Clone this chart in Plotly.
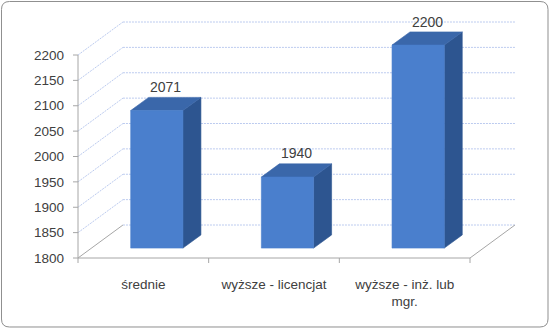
import plotly.graph_objects as go

# ---- data ----
categories = ["średnie", "wyższe - licencjat", "wyższe - inż. lub<br>mgr."]
values = [2071, 1940, 2200]
value_labels = ["2071", "1940", "2200"]
y_ticks = [1800, 1850, 1900, 1950, 2000, 2050, 2100, 2150, 2200]
y_tick_text = [str(v) for v in y_ticks]

# ---- 3D projection settings (data units) ----
Y0 = 1800            # floor value
N = len(categories)
DX, DY = 0.344, 65.0 # offset of the back wall relative to the front plane
D0, D1 = 0.3, 0.7    # bar depth range (fraction of full depth)
HW = 0.2             # half bar width

# pixel scale of the figure
W, H = 550, 329
PX_X = 130.67        # px per category unit
PX_Y = 0.5075        # px per value unit
ML, MR, MT, MB = 73, 20, 15, 65
FLOOR_PAD_X = 5      # px between plot-area left edge and front axis
FLOOR_PAD_Y = 6      # px between plot-area bottom and front floor

x_min = -FLOOR_PAD_X / PX_X
x_max = x_min + (W - ML - MR) / PX_X
y_min = Y0 - FLOOR_PAD_Y / PX_Y
y_max = y_min + (H - MT - MB) / PX_Y


def P(x, v, d):
    return x + d * DX, v + d * DY


def seg_trace(segs, color, width=1, dash="solid"):
    xs, ys = [], []
    for (a, b) in segs:
        xs += [a[0], b[0], None]
        ys += [a[1], b[1], None]
    return go.Scatter(x=xs, y=ys, mode="lines", hoverinfo="skip",
                      line=dict(color=color, width=width, dash=dash),
                      showlegend=False)


def poly_trace(pts, fill, edge):
    xs = [p[0] for p in pts] + [pts[0][0]]
    ys = [p[1] for p in pts] + [pts[0][1]]
    return go.Scatter(x=xs, y=ys, mode="lines", fill="toself", fillcolor=fill,
                      line=dict(color=edge, width=0.6), hoverinfo="skip",
                      showlegend=False)


fig = go.Figure()

grid_col = "#bccbef"
axis_col = "#a6a6a6"

# back wall gridlines
fig.add_trace(seg_trace([(P(0, v, 1), P(N, v, 1)) for v in y_ticks], grid_col, 1, "2px,1px"))
# side wall diagonals
fig.add_trace(seg_trace([(P(0, v, 0), P(0, v, 1)) for v in y_ticks[1:]], grid_col, 1, "2px,1px"))
# floor edges
fig.add_trace(seg_trace([(P(0, Y0, 0), P(0, Y0, 1)), (P(N, Y0, 0), P(N, Y0, 1))], axis_col, 1))
# front axis line + floor front edge
fig.add_trace(seg_trace([(P(0, Y0, 0), P(0, y_ticks[-1], 0)), (P(0, Y0, 0), P(N, Y0, 0))], axis_col, 1))
# y tick marks
fig.add_trace(seg_trace([((-FLOOR_PAD_X / PX_X, v), (0, v)) for v in y_ticks], axis_col, 1))
# x tick marks at category boundaries
fig.add_trace(seg_trace([((i, Y0), (i, Y0 - 5 / PX_Y)) for i in range(N + 1)], axis_col, 1))

front_col = "#4a7fcd"
side_col = "#2d5590"
top_col = "#3a67aa"

for i, v in enumerate(values):
    c = i + 0.5
    xl, xr = c - HW, c + HW
    side = [P(xr, Y0, D0), P(xr, Y0, D1), P(xr, v, D1), P(xr, v, D0)]
    top = [P(xl, v, D0), P(xr, v, D0), P(xr, v, D1), P(xl, v, D1)]
    front = [P(xl, Y0, D0), P(xr, Y0, D0), P(xr, v, D0), P(xl, v, D0)]
    fig.add_trace(poly_trace(side, side_col, side_col))
    fig.add_trace(poly_trace(top, top_col, top_col))
    fig.add_trace(poly_trace(front, front_col, front_col))
    lx, ly = P(c, v, 0.5)
    fig.add_annotation(x=lx, y=ly, text=value_labels[i], showarrow=False,
                       yshift=17, font=dict(size=14, color="#404040",
                                            family="Liberation Sans"))

# rounded border (in paper coords)
def to_paper(px, py):
    return (px - ML) / (W - ML - MR), (H - MB - py) / (H - MT - MB)

r = 8
x0p, y0p, x1p, y1p = 1.5, 1.5, 548, 327
pts = {
    "a": to_paper(x0p + r, y0p), "b": to_paper(x1p - r, y0p),
    "c": to_paper(x1p, y0p), "d": to_paper(x1p, y0p + r),
    "e": to_paper(x1p, y1p - r), "f": to_paper(x1p, y1p),
    "g": to_paper(x1p - r, y1p), "h": to_paper(x0p + r, y1p),
    "i": to_paper(x0p, y1p), "j": to_paper(x0p, y1p - r),
    "k": to_paper(x0p, y0p + r), "l": to_paper(x0p, y0p),
}
f = lambda k: f"{pts[k][0]:.5f},{pts[k][1]:.5f}"
path = (f"M {f('a')} L {f('b')} Q {f('c')} {f('d')} L {f('e')} Q {f('f')} {f('g')} "
        f"L {f('h')} Q {f('i')} {f('j')} L {f('k')} Q {f('l')} {f('a')} Z")
fig.add_shape(type="path", path=path, xref="paper", yref="paper",
              line=dict(color="#8f8f8f", width=1), layer="below")

fig.update_layout(
    width=W, height=H,
    margin=dict(l=ML, r=MR, t=MT, b=MB),
    paper_bgcolor="white", plot_bgcolor="white",
    showlegend=False,
    font=dict(family="Liberation Sans", size=13.5, color="#404040"),
    xaxis=dict(range=[x_min, x_max], showgrid=False, zeroline=False,
               showline=False, ticks="", tickvals=[i + 0.5 for i in range(N)],
               ticktext=categories, ticklabelstandoff=10, fixedrange=True),
    yaxis=dict(range=[y_min, y_max], showgrid=False, zeroline=False,
               showline=False, ticks="", tickvals=y_ticks, ticktext=y_tick_text,
               ticklabelstandoff=8, fixedrange=True),
)

fig.write_html("out.html")
